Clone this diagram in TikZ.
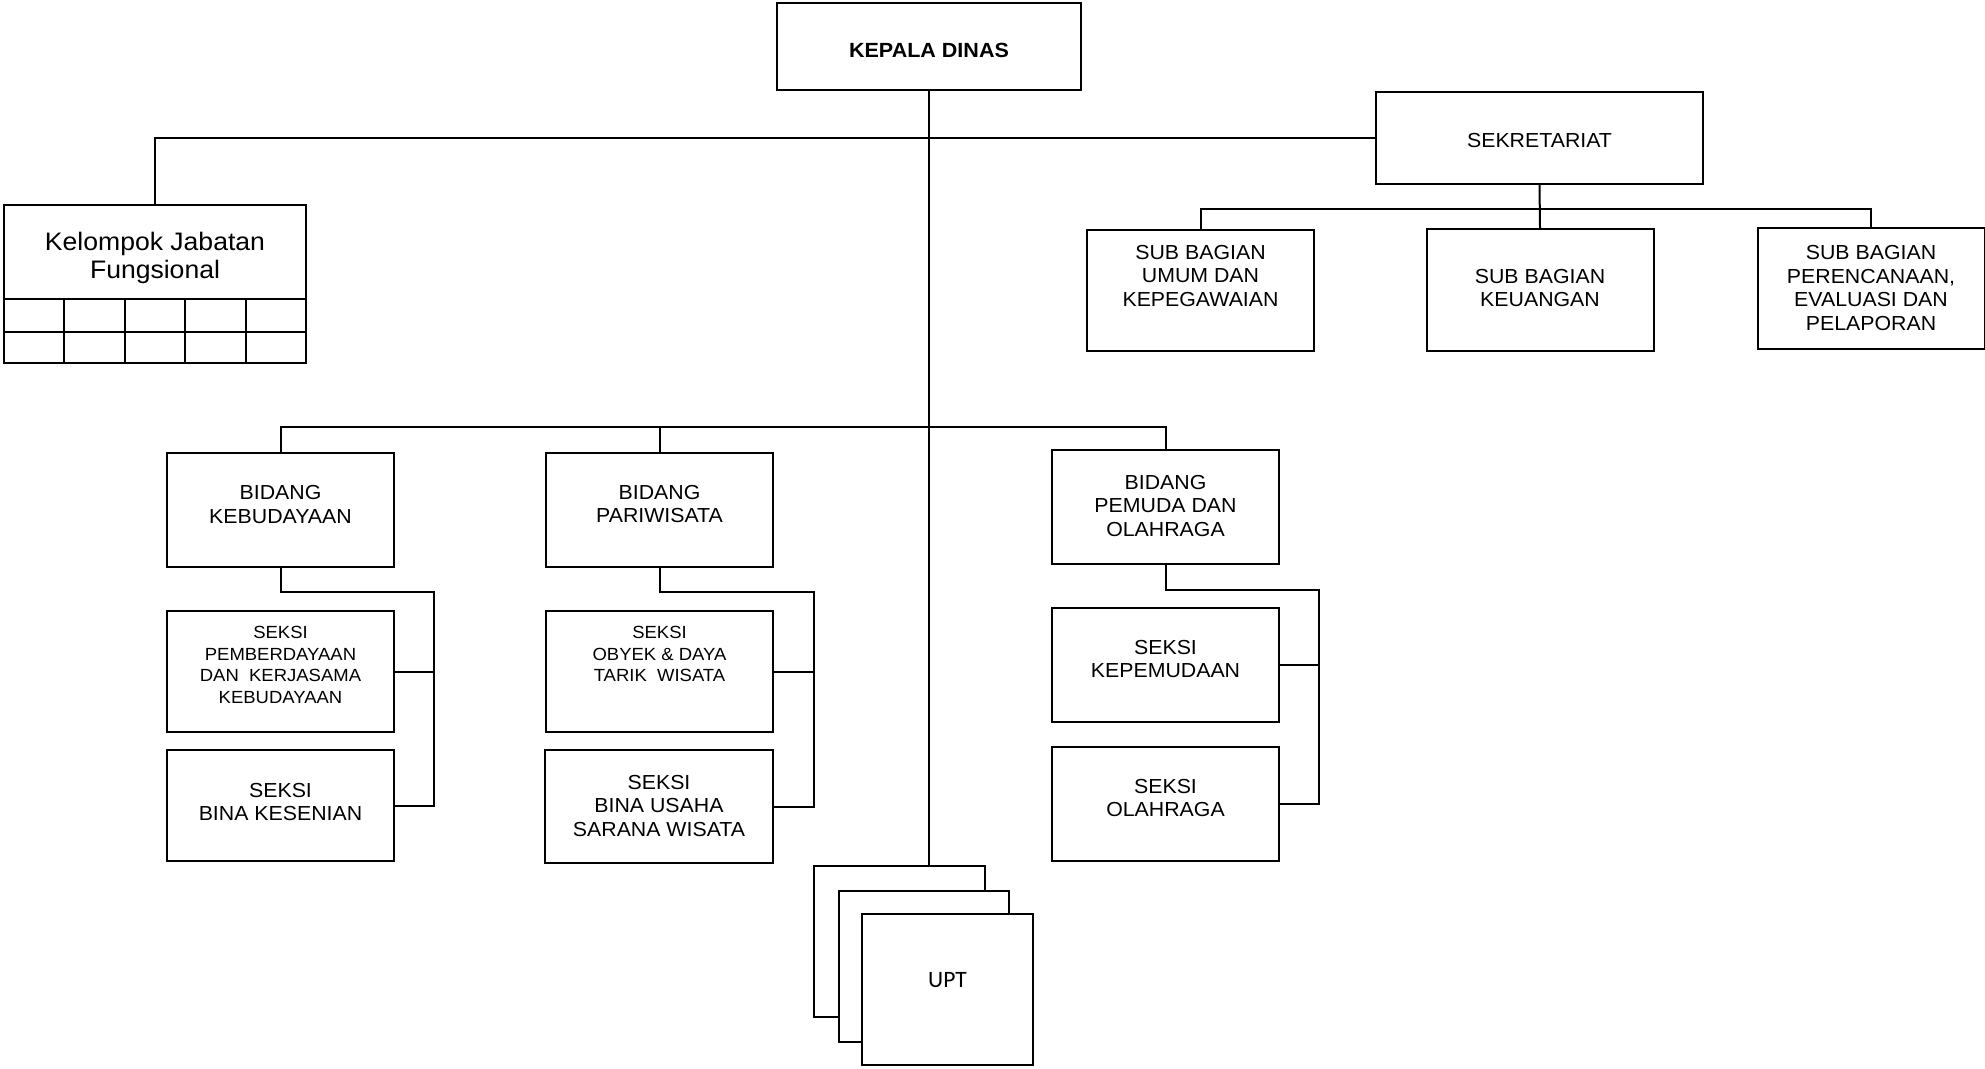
\documentclass[tikz,border=0pt]{standalone}
\usepackage{fontspec}
\setmainfont[FakeStretch=1.05]{Liberation Sans}
\newfontfamily\uptfont{Carlito}

\begin{document}
\begin{tikzpicture}[x=1pt, y=-1pt, line width=2pt,
    box/.style={draw, rectangle, inner sep=0pt, minimum width=227pt, minimum height=114pt},
    txt/.style={align=center, inner sep=0pt, font=\fontsize{20.3}{23.5}\selectfont},
    smalltxt/.style={align=center, inner sep=0pt, font=\fontsize{17.6}{21.5}\selectfont}]
        \useasboundingbox (0,0) rectangle (1985,1068);

        % Kepala Dinas
        \node[box, minimum width=304pt, minimum height=87pt] (kd) at (929,46.5) {};
        \node[txt, font=\bfseries\fontsize{20.5}{23}\selectfont] (kd-t) at (929,50.5) {KEPALA DINAS};

        % Kelompok Jabatan Fungsional
        \node[box, minimum width=302pt, minimum height=158pt] (kjf) at (155,284) {};
        \node[txt, font=\fontsize{25.3}{28}\selectfont] (kjf-t) at (155,258) {Kelompok Jabatan\\Fungsional};
        \draw (4,299) -- (306,299);
        \draw (4,332) -- (306,332);
        \foreach \x in {64.4,124.8,185.2,245.6}
            \draw (\x,299) -- (\x,363);

        % Sekretariat
        \node[box, minimum width=327pt, minimum height=92pt] (sek) at (1539.5,138) {};
        \node[txt] (sek-t) at (1539.5,140.5) {SEKRETARIAT};

        % Sub bagian
        \node[box, minimum height=121pt] (sb1) at (1200.5,290.5) {};
        \node[txt] (sb1-t) at (1200.5,276) {SUB BAGIAN\\UMUM DAN\\KEPEGAWAIAN};
        \node[box, minimum height=122pt] (sb2) at (1540,290) {};
        \node[txt] (sb2-t) at (1540,288) {SUB BAGIAN\\KEUANGAN};
        \node[box, minimum height=121pt] (sb3) at (1871,288.5) {};
        \node[txt] (sb3-t) at (1871,288) {SUB BAGIAN\\PERENCANAAN,\\EVALUASI DAN\\PELAPORAN};

        % Bidang Kebudayaan
        \node[box] (bk) at (280.5,510) {};
        \node[txt] (bk-t) at (280.5,504.5) {BIDANG\\KEBUDAYAAN};
        \node[box, minimum height=121pt] (sk1) at (280.5,671.5) {};
        \node[smalltxt] (sk1-t) at (280.5,665) {SEKSI\\PEMBERDAYAAN\\DAN\ \ KERJASAMA\\KEBUDAYAAN};
        \node[box, minimum height=111pt] (sk2) at (280.5,805.5) {};
        \node[txt] (sk2-t) at (280.5,802) {SEKSI\\BINA KESENIAN};

        % Bidang Pariwisata
        \node[box] (bp) at (659.5,509.5) {};
        \node[txt] (bp-t) at (659.5,504) {BIDANG\\PARIWISATA};
        \node[box, minimum height=121pt] (sp1) at (659.5,671.5) {};
        \node[smalltxt] (sp1-t) at (659.5,654) {SEKSI\\OBYEK \& DAYA\\TARIK\ \ WISATA};
        \node[box, minimum width=228pt, minimum height=113pt] (sp2) at (659,806.5) {};
        \node[txt] (sp2-t) at (659,805.5) {SEKSI\\BINA USAHA\\SARANA WISATA};

        % Bidang Pemuda dan Olahraga
        \node[box] (bpo) at (1165.5,507) {};
        \node[txt] (bpo-t) at (1165.5,506) {BIDANG\\PEMUDA DAN\\OLAHRAGA};
        \node[box] (so1) at (1165.5,665) {};
        \node[txt] (so1-t) at (1165.5,659) {SEKSI\\KEPEMUDAAN};
        \node[box] (so2) at (1165.5,804) {};
        \node[txt] (so2-t) at (1165.5,798) {SEKSI\\OLAHRAGA};

        % UPT
        \node[box, minimum width=171pt, minimum height=151pt] (upt1) at (899.5,941.5) {};
        \node[box, fill=white, minimum width=170pt, minimum height=151pt] (upt2) at (924,966.5) {};
        \node[box, fill=white, minimum width=171pt, minimum height=151pt] (upt3) at (947.5,989.5) {};
        \node[inner sep=0pt, font=\uptfont\fontsize{23.5}{27}\selectfont] (upt-t) at (947.5,980) {UPT};

        % Connectors
        \coordinate (sb-bar) at (0,209);
        \coordinate (bd-bar) at (0,426.6);
        \draw (kd.south) -- (kd.south |- upt1.north);
        \draw (kjf.north) |- (sek.west);
        \draw (sek.south) -- (sb2.north);
        \draw (sb1.north) |- (sb-bar -| sb3.north) -- (sb3.north);
        \draw (bk.north) |- (bd-bar -| bpo.north) -- (bpo.north);
        \draw (bp.north) -- (bp.north |- bd-bar);

        \coordinate (bk-sp) at (434,592);
        \draw (bk.south) |- (bk-sp) -- (bk-sp |- sk2.east) -- (sk2.east);
        \draw (sk1.east) -- (sk1.east -| bk-sp);

        \coordinate (bp-sp) at (814,592);
        \draw (bp.south) |- (bp-sp) -- (bp-sp |- sp2.east) -- (sp2.east);
        \draw (sp1.east) -- (sp1.east -| bp-sp);

        \coordinate (bpo-sp) at (1319,590);
        \draw (bpo.south) |- (bpo-sp) -- (bpo-sp |- so2.east) -- (so2.east);
        \draw (so1.east) -- (so1.east -| bpo-sp);
    \end{tikzpicture}
\end{document}
